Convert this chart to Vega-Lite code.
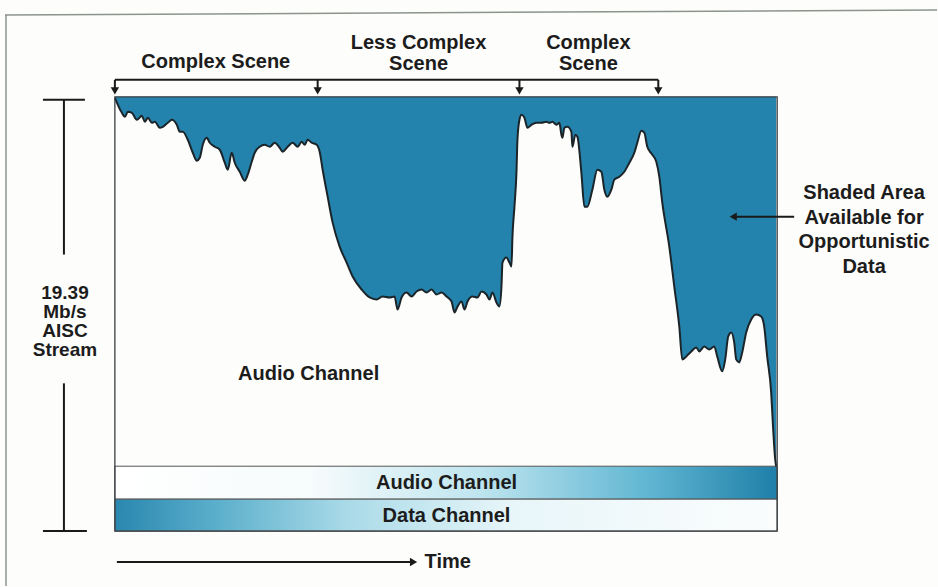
{
  "$schema": "https://vega.github.io/schema/vega-lite/v6.json",
  "width": 938,
  "height": 587,
  "autosize": {"type": "fit", "contains": "padding"},
  "padding": 0,
  "background": "#fdfdfb",
  "config": {"view": {"stroke": null}},
  "datasets": {
    "curve": [
      {"t":0,"r":434},{"t":7,"r":419},{"t":10,"r":415},{"t":13,"r":420},{"t":17,"r":419},{"t":22,"r":412},{"t":27,"r":416},{"t":30,"r":410},{"t":33,"r":414},{"t":37,"r":409},{"t":40,"r":410},{"t":45,"r":404},{"t":48,"r":405},{"t":53,"r":409},{"t":57,"r":412},{"t":62,"r":407},{"t":65,"r":400},{"t":68,"r":400},{"t":73,"r":392},{"t":78,"r":379},{"t":82,"r":371},{"t":85,"r":374},{"t":88,"r":387},{"t":92,"r":394},{"t":95,"r":389},{"t":100,"r":385},{"t":105,"r":382},{"t":110,"r":369},{"t":113,"r":362},{"t":117,"r":379},{"t":120,"r":369},{"t":125,"r":360},{"t":130,"r":351},{"t":133,"r":357},{"t":137,"r":370},{"t":140,"r":379},{"t":145,"r":385},{"t":150,"r":387},{"t":155,"r":385},{"t":160,"r":389},{"t":165,"r":384},{"t":168,"r":380},{"t":173,"r":385},{"t":178,"r":389},{"t":183,"r":385},{"t":187,"r":390},{"t":190,"r":387},{"t":193,"r":392},{"t":197,"r":389},{"t":202,"r":387},
      {"t":205,"r":380},{"t":208,"r":362},{"t":213,"r":335},{"t":218,"r":309},{"t":225,"r":285},{"t":232,"r":269},{"t":238,"r":255},{"t":247,"r":242},{"t":255,"r":234},{"t":262,"r":232},{"t":268,"r":235},{"t":275,"r":234},{"t":280,"r":235},{"t":283,"r":222},{"t":287,"r":234},{"t":292,"r":239},{"t":297,"r":235},{"t":302,"r":240},{"t":307,"r":242},{"t":312,"r":239},{"t":317,"r":242},{"t":322,"r":237},{"t":327,"r":239},{"t":332,"r":235},{"t":337,"r":230},{"t":340,"r":219},{"t":343,"r":225},{"t":347,"r":230},{"t":350,"r":222},{"t":353,"r":230},{"t":358,"r":235},{"t":363,"r":234},{"t":367,"r":240},{"t":372,"r":237},{"t":375,"r":232},{"t":378,"r":239},{"t":382,"r":229},{"t":385,"r":225},{"t":387,"r":245},{"t":388,"r":269},{"t":392,"r":274},{"t":395,"r":269},{"t":397,"r":265},{"t":398,"r":295},{"t":400,"r":325},{"t":402,"r":359},{"t":403,"r":392},{"t":405,"r":412},{"t":407,"r":417},{"t":410,"r":414},{"t":413,"r":404},{"t":417,"r":407},{"t":422,"r":409},{"t":427,"r":409},{"t":432,"r":410},{"t":435,"r":409},{"t":438,"r":410},{"t":442,"r":407},{"t":445,"r":409},{"t":447,"r":397},{"t":448,"r":394},{"t":450,"r":404},{"t":453,"r":405},{"t":457,"r":400},{"t":458,"r":385},{"t":461,"r":397},{"t":463,"r":395},{"t":467,"r":359},{"t":470,"r":325},{"t":473,"r":325},{"t":478,"r":342},{"t":483,"r":362},{"t":487,"r":360},{"t":490,"r":342},{"t":493,"r":335},{"t":497,"r":342},{"t":500,"r":352},{"t":505,"r":355},{"t":510,"r":360},{"t":515,"r":369},{"t":520,"r":379},{"t":523,"r":389},{"t":527,"r":401},{"t":530,"r":399},{"t":533,"r":385},{"t":538,"r":377},{"t":542,"r":370},{"t":545,"r":355},{"t":548,"r":329},{"t":555,"r":285},{"t":560,"r":245},{"t":565,"r":205},{"t":568,"r":172},{"t":572,"r":175},{"t":577,"r":180},{"t":582,"r":184},{"t":585,"r":180},{"t":590,"r":185},{"t":595,"r":182},{"t":600,"r":185},{"t":603,"r":175},{"t":608,"r":160},{"t":611,"r":172},{"t":614,"r":195},{"t":617,"r":199},{"t":620,"r":189},{"t":622,"r":172},{"t":625,"r":169},{"t":628,"r":179},{"t":632,"r":199},{"t":637,"r":212},{"t":642,"r":217},{"t":647,"r":215},{"t":650,"r":205},{"t":653,"r":175},{"t":657,"r":139},{"t":659,"r":102},{"t":661,"r":72},{"t":662,"r":65}
    ],
    "boxes": [
      {"name":"audio","t":0,"t2":663,"r":32,"r2":65},
      {"name":"data","t":0,"t2":663,"r":0,"r2":32},
      {"name":"plot","t":0,"t2":663,"r":0,"r2":435}
    ],
    "segs": [
      {"kind":"frame","t":-110,"r":517,"t2":823,"r2":522},
      {"kind":"frame","t":-109,"r":517,"t2":-109,"r2":-55},
      {"kind":"ink","t":-51,"r":432,"t2":-51,"r2":277},
      {"kind":"ink","t":-51,"r":148,"t2":-51,"r2":0},
      {"kind":"ink","t":-72,"r":432,"t2":-30,"r2":432},
      {"kind":"ink","t":-72,"r":0,"t2":-28,"r2":0},
      {"kind":"ink","t":0,"r":452,"t2":544,"r2":452},
      {"kind":"ink","t":0,"r":452,"t2":0,"r2":443},
      {"kind":"ink","t":203,"r":452,"t2":203,"r2":443},
      {"kind":"ink","t":405,"r":452,"t2":405,"r2":443},
      {"kind":"ink","t":544,"r":452,"t2":544,"r2":443},
      {"kind":"ink","t":680,"r":315,"t2":622,"r2":315},
      {"kind":"ink","t":2,"r":-31,"t2":296,"r2":-31}
    ],
    "heads": [
      {"t":0,"r":441,"dir":"down"},
      {"t":203,"r":441,"dir":"down"},
      {"t":405,"r":441,"dir":"down"},
      {"t":544,"r":441,"dir":"down"},
      {"t":619,"r":315,"dir":"left"},
      {"t":299,"r":-31,"dir":"right"}
    ],
    "labels": [
      {"t":101,"r":470,"label":"Complex Scene"},
      {"t":304,"r":489,"label":"Less Complex"},
      {"t":304,"r":468,"label":"Scene"},
      {"t":474,"r":489,"label":"Complex"},
      {"t":474,"r":468,"label":"Scene"},
      {"t":194,"r":157,"label":"Audio Channel"},
      {"t":332,"r":48,"label":"Audio Channel"},
      {"t":332,"r":15,"label":"Data Channel"},
      {"t":750,"r":339,"label":"Shaded Area"},
      {"t":750,"r":314,"label":"Available for"},
      {"t":750,"r":290,"label":"Opportunistic"},
      {"t":750,"r":265,"label":"Data"}
    ],
    "stack": [
      {"t":-50,"r":238,"label":"19.39\nMb/s\nAISC\nStream"}
    ],
    "leftlabels": [
      {"t":310,"r":-31,"label":"Time"}
    ]
  },
  "encoding": {
    "x": {"field":"t","type":"quantitative","scale":{"domain":[-115,823],"nice":false,"zero":false},"axis":null},
    "y": {"field":"r","type":"quantitative","scale":{"domain":[-55,532],"nice":false,"zero":false},"axis":null}
  },
  "layer": [
    {
      "data": {"name":"segs"},
      "transform": [{"filter":"datum.kind === 'frame'"}],
      "mark": {"type":"rule","stroke":"#8c948c","strokeWidth":1.5},
      "encoding": {"x2":{"field":"t2"},"y2":{"field":"r2"}}
    },
    {
      "data": {"name":"curve"},
      "mark": {"type":"area","fill":"#2483ad","interpolate":"monotone"},
      "encoding": {"y2":{"datum":435}}
    },
    {
      "data": {"name":"boxes"},
      "transform": [{"filter":"datum.name === 'audio'"}],
      "mark": {"type":"rect","stroke":"#555555","strokeWidth":1,
        "fill":{"gradient":"linear","x1":0,"y1":0,"x2":1,"y2":0,
          "stops":[{"offset":0,"color":"#ffffff"},{"offset":0.3,"color":"#f6fbfc"},{"offset":0.55,"color":"#bfe5ef"},{"offset":0.8,"color":"#62b7d3"},{"offset":1,"color":"#1f7fa8"}]}},
      "encoding": {"x2":{"field":"t2"},"y2":{"field":"r2"}}
    },
    {
      "data": {"name":"boxes"},
      "transform": [{"filter":"datum.name === 'data'"}],
      "mark": {"type":"rect","stroke":"#555555","strokeWidth":1,
        "fill":{"gradient":"linear","x1":0,"y1":0,"x2":1,"y2":0,
          "stops":[{"offset":0,"color":"#2a87af"},{"offset":0.15,"color":"#5aaecb"},{"offset":0.35,"color":"#a9dae8"},{"offset":0.6,"color":"#e8f6f9"},{"offset":1,"color":"#fbfdfd"}]}},
      "encoding": {"x2":{"field":"t2"},"y2":{"field":"r2"}}
    },
    {
      "data": {"name":"curve"},
      "mark": {"type":"line","stroke":"#1b2529","strokeWidth":2,"interpolate":"monotone"},
      "encoding": {}
    },
    {
      "data": {"name":"boxes"},
      "transform": [{"filter":"datum.name === 'plot'"}],
      "mark": {"type":"rect","fill":null,"fillOpacity":0,"stroke":"#3a3f42","strokeWidth":1.3},
      "encoding": {"x2":{"field":"t2"},"y2":{"field":"r2"}}
    },
    {
      "data": {"name":"segs"},
      "transform": [{"filter":"datum.kind === 'ink'"}],
      "mark": {"type":"rule","stroke":"#1a1a1a","strokeWidth":2},
      "encoding": {"x2":{"field":"t2"},"y2":{"field":"r2"}}
    },
    {
      "data": {"name":"heads"},
      "mark": {"type":"point","filled":true,"color":"#1a1a1a","size":70,"opacity":1},
      "encoding": {
        "shape": {"field":"dir","type":"nominal","scale":{"domain":["down","left","right"],"range":["triangle-down","triangle-left","triangle-right"]},"legend":null}
      }
    },
    {
      "data": {"name":"labels"},
      "mark": {"type":"text","font":"Liberation Sans","fontSize":20,"fontWeight":"bold","color":"#1c1c1c","align":"center","baseline":"middle"},
      "encoding": {"text":{"field":"label"}}
    },
    {
      "data": {"name":"stack"},
      "mark": {"type":"text","font":"Liberation Sans","fontSize":19,"fontWeight":"bold","color":"#1c1c1c","align":"center","baseline":"middle","lineBreak":"\n","lineHeight":19},
      "encoding": {"text":{"field":"label"}}
    },
    {
      "data": {"name":"leftlabels"},
      "mark": {"type":"text","font":"Liberation Sans","fontSize":20,"fontWeight":"bold","color":"#1c1c1c","align":"left","baseline":"middle"},
      "encoding": {"text":{"field":"label"}}
    }
  ]
}
